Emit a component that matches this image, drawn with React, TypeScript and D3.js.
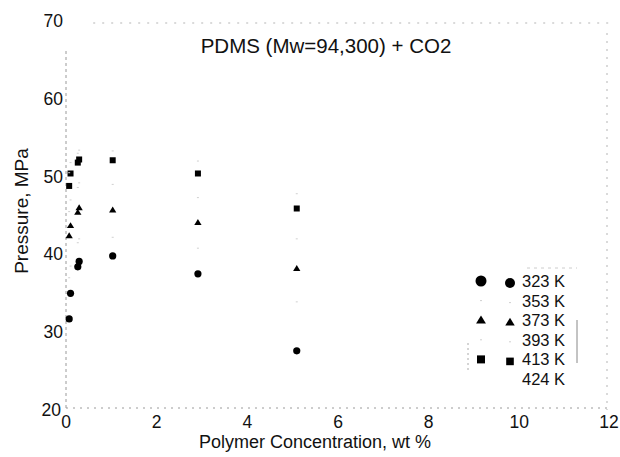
import React from "react";
import * as d3 from "d3";

const concentrations = [0.07, 0.1, 0.26, 0.29, 1.03, 2.91, 5.09];
const p323 = [31.7, 35.0, 38.4, 39.1, 39.8, 37.5, 27.6];
const p353 = [37.0, 38.5, 41.5, 42.0, 42.2, 40.8, 33.9];
const p373 = [42.4, 43.7, 45.4, 46.0, 45.7, 44.1, 38.2];
const p393 = [45.5, 47.0, 48.6, 49.2, 49.0, 47.3, 42.0];
const p413 = [48.8, 50.4, 51.8, 52.2, 52.1, 50.4, 45.9];
const p424 = [50.5, 51.8, 53.0, 53.4, 53.3, 52.0, 47.8];
const xTicks = [0, 2, 4, 6, 8, 10, 12];
const yTicks = [20, 30, 40, 50, 60, 70];
const seriesLabels = ["323 K", "353 K", "373 K", "393 K", "413 K", "424 K"];
const seriesValues = [p323, p353, p373, p393, p413, p424];
const seriesShapes = ["circle", "dot", "triangle", "dot", "square", "none"];

const FONT = "'Liberation Sans', Arial, sans-serif";

function Marker({ shape, x, y, s, faint }: { shape: string; x: number; y: number; s: number; faint?: boolean }) {
  const fill = faint ? "#e4e4e4" : "#000";
  if (shape === "circle") {
    return <path d={d3.symbol(d3.symbolCircle, s * s * Math.PI)()!} transform={`translate(${x},${y})`} fill={fill} />;
  }
  if (shape === "triangle") {
    return <path d={`M${x},${y - s * 1.05}L${x + s * 1.1},${y + s * 0.75}L${x - s * 1.1},${y + s * 0.75}Z`} fill={fill} />;
  }
  if (shape === "square") {
    return <rect x={x - s} y={y - s} width={2 * s} height={2 * s} fill={fill} />;
  }
  if (shape === "dot") {
    return <rect x={x - 1} y={y - 0.5} width={2} height={1} fill="#d0d0d0" />;
  }
  return null;
}

export default function App() {
  const x = d3.scaleLinear().domain([0, 12]).range([66, 610]);
  const y = d3.scaleLinear().domain([20, 70]).range([410, 21]);
  const gray = "#9a9a9a";
  return (
    <svg width={620} height={457} style={{ position: "absolute", left: 0, top: 0, background: "#fff" }} fontFamily={FONT}>
      <rect width={620} height={457} fill="#fff" />
      {/* frame */}
      <line x1={x(0)} x2={x(0)} y1={y(70) + 30} y2={y(20)} stroke={gray} strokeWidth={1} strokeDasharray="3,3" />
      <line x1={x(0)} x2={x(12)} y1={y(20) - 2} y2={y(20) - 2} stroke={gray} strokeWidth={1} strokeDasharray="2,5" />
      <line x1={x(0.6)} x2={x(12)} y1={y(70) + 2} y2={y(70) + 2} stroke="#b5b5b5" strokeWidth={1} strokeDasharray="2,7" />
      <line x1={607} x2={607} y1={y(70) + 12} y2={y(20)} stroke="#b5b5b5" strokeWidth={1} strokeDasharray="2,6" />
      {/* faint legend box */}
      <line x1={468} x2={468} y1={343} y2={373} stroke="#aaa" strokeDasharray="2,3" />
      <line x1={577} x2={577} y1={320} y2={363} stroke="#888" />
      <line x1={527} x2={577} y1={268} y2={268} stroke="#ccc" strokeDasharray="3,4" />
      {/* y ticks */}
      {yTicks.map((t) => (
        <text key={t} x={63} y={y(t) + 6} textAnchor="end" fontSize={17.5} fill="#111" dx={t === 20 ? -2 : 0}>
          {t}
        </text>
      ))}
      {/* x ticks */}
      {xTicks.map((t) => (
        <text key={t} x={x(t)} y={428} textAnchor="middle" fontSize={17.5} fill="#111" dx={t === 12 ? -1 : 0}>
          {t}
        </text>
      ))}
      <text x={315} y={448} textAnchor="middle" fontSize={18} fill="#111">
        Polymer Concentration, wt %
      </text>
      <text transform={`translate(28,${211}) rotate(-90)`} textAnchor="middle" fontSize={19} fill="#111">
        Pressure, MPa
      </text>
      <text x={326} y={53} textAnchor="middle" fontSize={20.5} fill="#111">
        PDMS (Mw=94,300) + CO2
      </text>
      {/* data */}
      {seriesValues.map((vals, si) =>
        vals.map((v, i) => {
          const shape = seriesShapes[si];
          const faint = shape === "dot" || shape === "none";
          return (
            <Marker
              key={`${si}-${i}`}
              shape={faint ? "dot" : shape}
              x={x(concentrations[i])}
              y={y(v)}
              s={shape === "circle" ? 3.6 : shape === "square" ? 3 : 3.3}
              faint={faint}
            />
          );
        })
      )}
      {/* legend */}
      {seriesLabels.map((lab, i) => {
        const ly = 281 + i * 19.6;
        const shape = seriesShapes[i];
        return (
          <g key={lab}>
            <Marker shape={shape} x={481} y={ly} s={shape === "circle" ? 5.5 : shape === "square" ? 4 : 4.5} />
            <Marker shape={shape} x={510} y={ly + 2} s={shape === "circle" ? 5 : shape === "square" ? 3.8 : 4.3} />
            <text x={522} y={ly + 6} fontSize={16.5} fill="#111">
              {lab}
            </text>
          </g>
        );
      })}
    </svg>
  );
}
